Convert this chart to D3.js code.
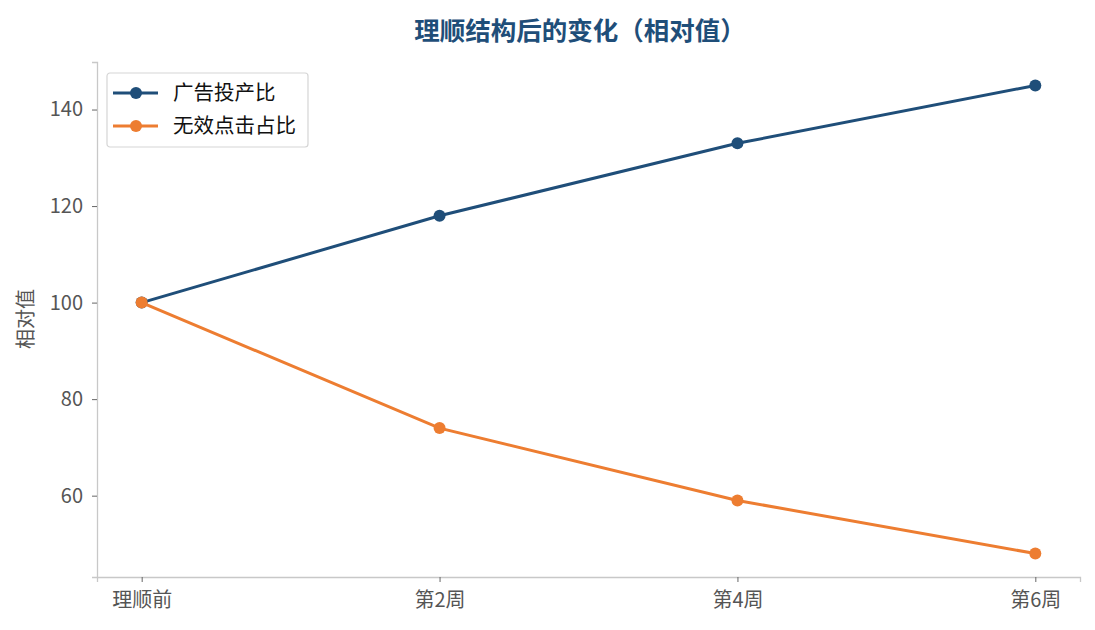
<!DOCTYPE html>
<html>
<head>
<meta charset="utf-8">
<script src="https://cdn.jsdelivr.net/npm/d3@7"></script>
<style>
  body { margin: 0; background: #fff; }
  text { font-family: "Noto Sans CJK SC", "Noto Sans", sans-serif; }
</style>
</head>
<body>
<div id="chart-area"></div>
<script>
var categories = ["理顺前", "第2周", "第4周", "第6周"];
var roiValues = [100, 118, 133, 145];
var invalidValues = [100, 74, 59, 48];
var yTicks = [60, 80, 100, 120, 140];
var seriesNames = ["广告投产比", "无效点击占比"];
var colors = ["#1f4e79", "#ed7d31"];

var margin = { top: 62, right: 15, bottom: 53, left: 97 },
    width = 1095 - margin.left - margin.right,
    height = 630 - margin.top - margin.bottom;

var svg = d3.select("#chart-area").append("svg")
    .attr("width", 1095)
    .attr("height", 630);

var g = svg.append("g")
    .attr("transform", "translate(" + margin.left + ", " + margin.top + ")");

var x = d3.scaleLinear().domain([-0.15, 3.15]).range([0, width]);
var y = d3.scaleLinear().domain([43.15, 149.85]).range([height, 0]);

// axes
var xAxisGroup = g.append("g")
    .attr("transform", "translate(0, " + height + ")")
    .call(d3.axisBottom(x).tickValues([0, 1, 2, 3]).tickFormat((d) => categories[d]).tickSize(5).tickPadding(11));
var yAxisGroup = g.append("g")
    .call(d3.axisLeft(y).tickValues(yTicks).tickSize(5).tickPadding(9));

[xAxisGroup, yAxisGroup].forEach((ax) => {
    ax.select(".domain").attr("stroke", "#c8c8c8").attr("stroke-width", 1.3);
    ax.selectAll(".tick line").attr("stroke", "#666").attr("stroke-width", 1);
    ax.selectAll(".tick text").attr("fill", "#555").style("font-size", "20px")
        .style("font-family", "'Noto Sans CJK SC', sans-serif");
});

// y label
g.append("text")
    .attr("transform", "rotate(-90)")
    .attr("x", -(319 - margin.top))
    .attr("y", -64)
    .attr("text-anchor", "middle")
    .attr("fill", "#555")
    .style("font-size", "20px")
    .text("相对值");

// title
svg.append("text")
    .attr("x", 580)
    .attr("y", 40)
    .attr("text-anchor", "middle")
    .attr("fill", "#1f4e79")
    .style("font-size", "25.5px")
    .style("font-weight", "bold")
    .text("理顺结构后的变化（相对值）");

var line = d3.line().x((d, i) => x(i)).y((d) => y(d));

[roiValues, invalidValues].forEach((vals, k) => {
    g.append("path")
        .datum(vals)
        .attr("fill", "none")
        .attr("stroke", colors[k])
        .attr("stroke-width", 3)
        .attr("d", line);
    g.selectAll(".dot" + k)
        .data(vals)
        .enter().append("circle")
        .attr("cx", (d, i) => x(i))
        .attr("cy", (d) => y(d))
        .attr("r", 6)
        .attr("fill", colors[k]);
});

// legend
var legend = g.append("g").attr("transform", "translate(10, 11)");
legend.append("rect")
    .attr("width", 201)
    .attr("height", 74)
    .attr("rx", 3)
    .attr("fill", "#fff")
    .attr("stroke", "#d5d5d5")
    .attr("stroke-width", 1.2);
seriesNames.forEach((name, k) => {
    var row = legend.append("g").attr("transform", "translate(0, " + (20 + k * 33) + ")");
    row.append("line")
        .attr("x1", 6).attr("x2", 51)
        .attr("stroke", colors[k]).attr("stroke-width", 3);
    row.append("circle").attr("cx", 29).attr("r", 6).attr("fill", colors[k]);
    row.append("text")
        .attr("x", 66)
        .attr("dy", "0.36em")
        .attr("fill", "#111")
        .style("font-size", "20.5px")
        .text(name);
});
</script>
</body>
</html>
